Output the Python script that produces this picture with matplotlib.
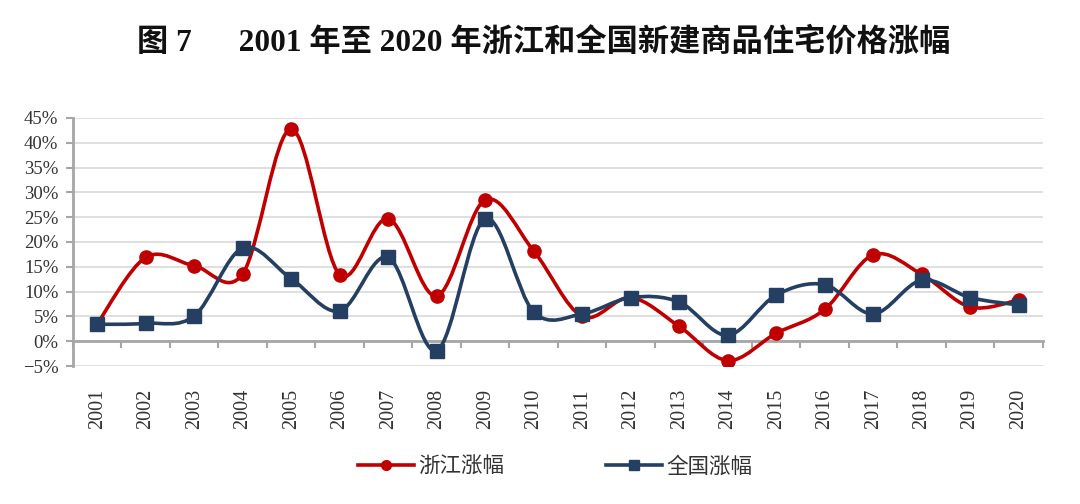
import numpy as np
import matplotlib
matplotlib.use('Agg')
import matplotlib.pyplot as plt
from matplotlib.path import Path
from matplotlib.patches import PathPatch
from matplotlib.lines import Line2D

plt.rcParams['font.family'] = ['Liberation Serif', 'Noto Sans CJK SC']

years = [str(y) for y in range(2001, 2021)]
zhejiang = [3.5, 16.9, 15.2, 13.6, 42.8, 13.4, 24.7, 9.1, 28.5, 18.2,
            5.0, 8.8, 3.0, -3.9, 1.6, 6.4, 17.4, 13.5, 6.9, 8.3]
national = [3.4, 3.6, 5.1, 18.8, 12.6, 6.1, 16.9, -1.9, 24.7, 5.9,
            5.5, 8.8, 7.9, 1.2, 9.3, 11.4, 5.5, 12.3, 8.8, 7.3]

red = '#C00000'
navy = '#243F61'
grey = '#A6A6A6'


def smooth_path(x, y):
    # excel-like smoothed line: cubic bezier, catmull-rom control points
    x = np.asarray(x, float)
    y = np.asarray(y, float)
    verts = [(x[0], y[0])]
    codes = [Path.MOVETO]
    n = len(x)
    for i in range(n - 1):
        p0 = (x[max(i - 1, 0)], y[max(i - 1, 0)])
        p1 = (x[i], y[i])
        p2 = (x[i + 1], y[i + 1])
        p3 = (x[min(i + 2, n - 1)], y[min(i + 2, n - 1)])
        c1 = (p1[0] + (p2[0] - p0[0]) / 6, p1[1] + (p2[1] - p0[1]) / 6)
        c2 = (p2[0] - (p3[0] - p1[0]) / 6, p2[1] - (p3[1] - p1[1]) / 6)
        verts += [c1, c2, p2]
        codes += [Path.CURVE4] * 3
    return Path(verts, codes)


fig = plt.figure(figsize=(10.8, 5.04), dpi=100)
ax = fig.add_axes([0.0676, 0.2738, 0.898, 0.4921])

x = np.arange(len(years))
for vals, col, mk in [(zhejiang, red, 'o'), (national, navy, 's')]:
    ax.add_patch(PathPatch(smooth_path(x, vals), facecolor='none',
                           edgecolor=col, lw=2.6, zorder=3, capstyle='round'))
    ax.plot(x, vals, linestyle='none', marker=mk, color=col,
            markersize=9.5 if mk == 'o' else 10, zorder=4)

ax.set_xlim(-0.5, len(years) - 0.5)
ax.set_ylim(-5, 45)
ax.set_yticks(np.arange(-5, 46, 5))
ax.set_yticklabels([f'{v}%' if v >= 0 else f'\u2212{-v}%' for v in range(-5, 46, 5)])
ax.yaxis.grid(True, color='#D9D9D9', lw=1.2)
ax.set_axisbelow(True)

for s in ['top', 'right']:
    ax.spines[s].set_visible(False)
ax.spines['left'].set_color(grey)
ax.spines['left'].set_linewidth(2)
ax.spines['bottom'].set_position(('data', 0))
ax.spines['bottom'].set_color(grey)
ax.spines['bottom'].set_linewidth(2)

ax.tick_params(axis='y', length=5, width=1.5, color=grey, labelsize=13.5,
               labelcolor='#333333', pad=5.5)
ax.set_xticks(np.arange(-0.5, len(years), 1))
ax.tick_params(axis='x', length=5, width=1.5, color=grey, labelbottom=False)

sec = ax.secondary_xaxis(0)
sec.set_xticks(x)
sec.set_xticklabels(years, rotation=90)
sec.tick_params(length=0, labelsize=14.5, labelcolor='#333333', pad=16.5)
sec.spines['bottom'].set_visible(False)

fig.text(0.503, 0.915, '图 7\u3000  2001 年至 2020 年浙江和全国新建商品住宅价格涨幅',
         ha='center', va='center', fontsize=22.5, fontweight='bold', color='#111111')

handles = [Line2D([], [], color=red, lw=2.6, marker='o', markersize=7),
           Line2D([], [], color=navy, lw=2.6, marker='s', markersize=7)]
fig.legend(handles, ['浙江涨幅', '全国涨幅'], loc='center', bbox_to_anchor=(0.514, 0.073),
           ncol=2, frameon=False, fontsize=15.5, handlelength=2.6, columnspacing=4.7,
           handletextpad=0.2, labelcolor='#333333')

fig.savefig('out.png', dpi=100)
